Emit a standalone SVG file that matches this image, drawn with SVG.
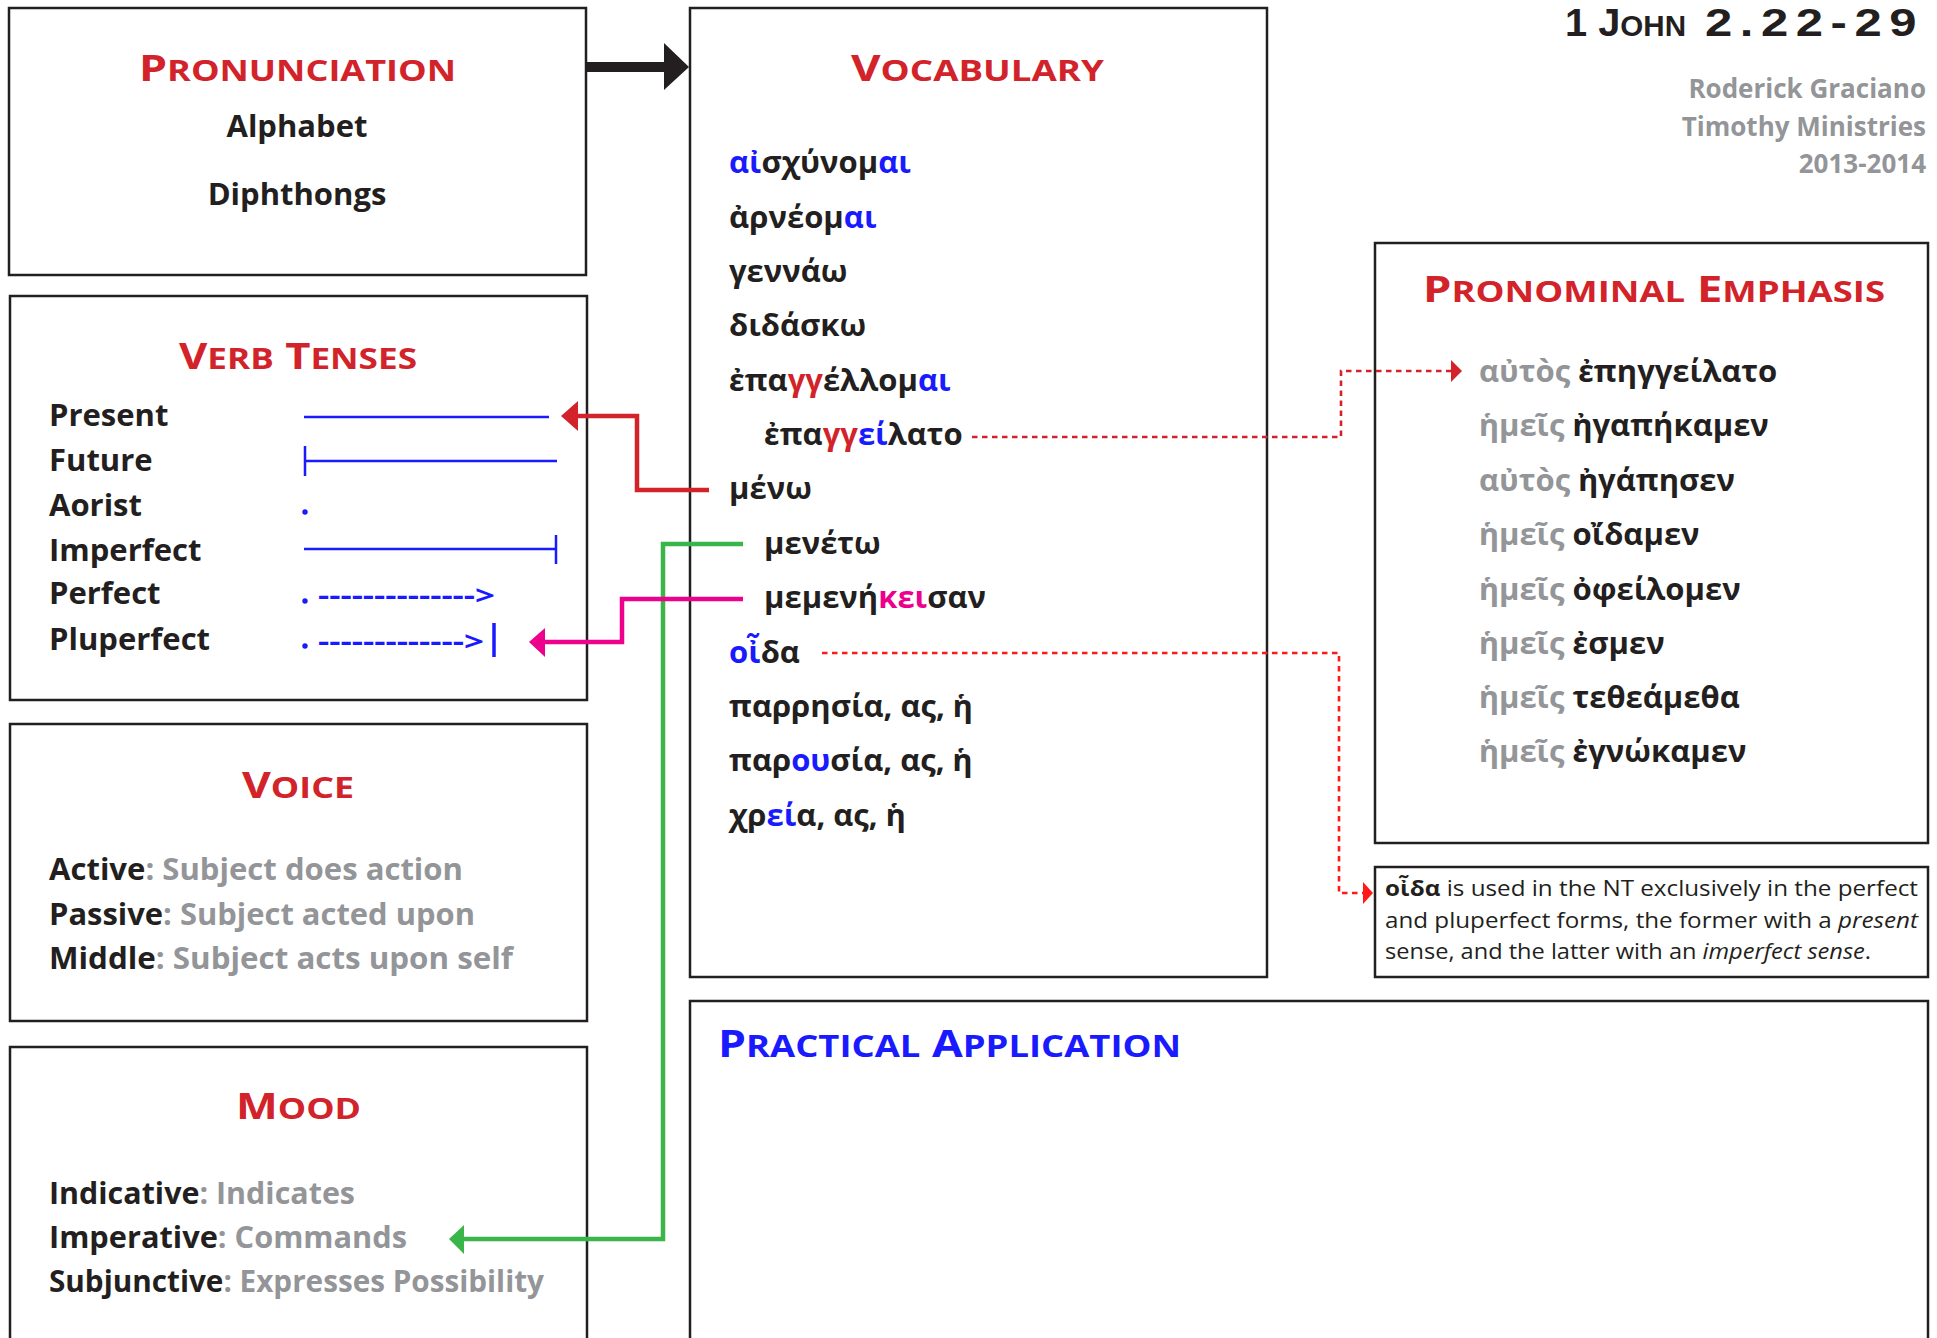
<svg xmlns="http://www.w3.org/2000/svg" width="1937" height="1338" viewBox="0 0 1937 1338">
<defs>
<style>
.box{fill:none;stroke:#231f20;stroke-width:2.5}
.h{font-family:"Open Sans","Noto Sans",sans-serif;font-weight:700;font-size:36px;fill:#d2232a}
.sc{font-size:29px}
.t{font-family:"Open Sans","Noto Sans",sans-serif;font-weight:700;font-size:31px;fill:#231f20}
.g{fill:#939598}
.b{fill:#1a1aff}
.r{fill:#d2232a}
.p{fill:#ec008c}
.gk{font-family:"Open Sans","Noto Sans",sans-serif;font-weight:700;font-size:31px;fill:#231f20}
.tl{fill:none;stroke:#1a1aff;stroke-width:2.5}
.dash{fill:none;stroke-width:2.6;stroke-dasharray:5.5 4.5}
.note{font-family:"Open Sans","Noto Sans",sans-serif;font-size:22px;fill:#231f20}
.meta{font-family:"Open Sans","Noto Sans",sans-serif;font-weight:700;font-size:26px;fill:#939598}
.ttl{font-family:"Liberation Sans",Arial,sans-serif;font-weight:700;font-size:39px;fill:#231f20}
</style>
</defs>
<rect width="1937" height="1338" fill="#ffffff"/>

<g id="title">
<text class="ttl" x="1565" y="36" textLength="121" lengthAdjust="spacingAndGlyphs">1 J<tspan style="font-size:29px">OHN</tspan></text>
<text class="ttl" x="1705" y="36" style="letter-spacing:6px" textLength="219" lengthAdjust="spacingAndGlyphs">2.22-29</text>
<text class="meta" x="1926" y="98" text-anchor="end">Roderick Graciano</text>
<text class="meta" x="1926" y="136" text-anchor="end">Timothy Ministries</text>
<text class="meta" x="1926" y="173" text-anchor="end">2013-2014</text>
</g>

<g id="pronunciation">
<rect class="box" x="9" y="8" width="577" height="267"/>
<text class="h" x="139" y="81" textLength="317" lengthAdjust="spacingAndGlyphs">P<tspan class="sc">RONUNCIATION</tspan></text>
<text class="t" x="297" y="137" text-anchor="middle">Alphabet</text>
<text class="t" x="297" y="205" text-anchor="middle">Diphthongs</text>
</g>

<g id="verb-tenses">
<rect class="box" x="10" y="296" width="577" height="404"/>
<text class="h" x="179" y="369" textLength="238" lengthAdjust="spacingAndGlyphs">V<tspan class="sc">ERB</tspan> T<tspan class="sc">ENSES</tspan></text>
<text class="t" x="49" y="426">Present</text>
<text class="t" x="49" y="471">Future</text>
<text class="t" x="49" y="516">Aorist</text>
<text class="t" x="49" y="561">Imperfect</text>
<text class="t" x="49" y="604">Perfect</text>
<text class="t" x="49" y="650">Pluperfect</text>
<line class="tl" x1="304" y1="417" x2="549" y2="417"/>
<line class="tl" x1="305" y1="461" x2="557" y2="461"/>
<line class="tl" x1="305" y1="446" x2="305" y2="476"/>
<circle cx="305" cy="512" r="2.7" fill="#1a1aff"/>
<line class="tl" x1="304" y1="549" x2="556" y2="549"/>
<line class="tl" x1="556" y1="535" x2="556" y2="564"/>
<circle cx="305" cy="601" r="2.7" fill="#1a1aff"/>
<text class="t b" x="318" y="605" style="font-size:27px" textLength="177" lengthAdjust="spacingAndGlyphs">--------------&gt;</text>
<circle cx="305" cy="646" r="2.7" fill="#1a1aff"/>
<text class="t b" x="318" y="651" style="font-size:27px" textLength="166" lengthAdjust="spacingAndGlyphs">-------------&gt;</text>
<line x1="494" y1="623" x2="494" y2="657" stroke="#1a1aff" stroke-width="3.5"/>
</g>

<g id="voice">
<rect class="box" x="10" y="724" width="577" height="297"/>
<text class="h" x="242" y="798" textLength="112" lengthAdjust="spacingAndGlyphs">V<tspan class="sc">OICE</tspan></text>
<text class="t" x="49" y="880" textLength="414" lengthAdjust="spacingAndGlyphs">Active<tspan class="g">: Subject does action</tspan></text>
<text class="t" x="49" y="925" textLength="426" lengthAdjust="spacingAndGlyphs">Passive<tspan class="g">: Subject acted upon</tspan></text>
<text class="t" x="49" y="969" textLength="464" lengthAdjust="spacingAndGlyphs">Middle<tspan class="g">: Subject acts upon self</tspan></text>
</g>

<g id="mood">
<rect class="box" x="10" y="1047" width="577" height="300"/>
<text class="h" x="236" y="1119" textLength="125" lengthAdjust="spacingAndGlyphs">M<tspan class="sc">OOD</tspan></text>
<text class="t" x="49" y="1204" textLength="306" lengthAdjust="spacingAndGlyphs">Indicative<tspan class="g">: Indicates</tspan></text>
<text class="t" x="49" y="1248" textLength="358" lengthAdjust="spacingAndGlyphs">Imperative<tspan class="g">: Commands</tspan></text>
<text class="t" x="49" y="1292" textLength="495" lengthAdjust="spacingAndGlyphs">Subjunctive<tspan class="g">: Expresses Possibility</tspan></text>
</g>

<g id="vocabulary">
<rect class="box" x="690" y="8" width="577" height="969"/>
<text class="h" x="851" y="81" textLength="253" lengthAdjust="spacingAndGlyphs">V<tspan class="sc">OCABULARY</tspan></text>
<text class="gk" x="729" y="173"><tspan class="b">αἰ</tspan>σχύνομ<tspan class="b">αι</tspan></text>
<text class="gk" x="729" y="228">ἀρνέομ<tspan class="b">αι</tspan></text>
<text class="gk" x="729" y="282">γεννάω</text>
<text class="gk" x="729" y="336">διδάσκω</text>
<text class="gk" x="729" y="391">ἐπα<tspan class="r">γγ</tspan>έλλομ<tspan class="b">αι</tspan></text>
<text class="gk" x="764" y="445">ἐπα<tspan class="r">γγ</tspan><tspan class="b">εί</tspan>λατο</text>
<text class="gk" x="729" y="499">μένω</text>
<text class="gk" x="764" y="554">μενέτω</text>
<text class="gk" x="764" y="608">μεμενή<tspan class="p">κει</tspan>σαν</text>
<text class="gk" x="729" y="663"><tspan class="b">οἶ</tspan>δα</text>
<text class="gk" x="729" y="717">παρρησία, ας, ἡ</text>
<text class="gk" x="729" y="771">παρ<tspan class="b">ου</tspan>σία, ας, ἡ</text>
<text class="gk" x="729" y="826">χρ<tspan class="b">εί</tspan>α, ας, ἡ</text>
</g>

<g id="pronominal-emphasis">
<rect class="box" x="1375" y="243" width="553" height="600"/>
<text class="h" x="1423" y="302" textLength="462" lengthAdjust="spacingAndGlyphs">P<tspan class="sc">RONOMINAL</tspan> E<tspan class="sc">MPHASIS</tspan></text>
<text class="gk" x="1479" y="382"><tspan class="g">αὐτὸς</tspan> ἐπηγγείλατο</text>
<text class="gk" x="1479" y="436"><tspan class="g">ἡμεῖς</tspan> ἠγαπήκαμεν</text>
<text class="gk" x="1479" y="491"><tspan class="g">αὐτὸς</tspan> ἠγάπησεν</text>
<text class="gk" x="1479" y="545"><tspan class="g">ἡμεῖς</tspan> οἴδαμεν</text>
<text class="gk" x="1479" y="600"><tspan class="g">ἡμεῖς</tspan> ὀφείλομεν</text>
<text class="gk" x="1479" y="654"><tspan class="g">ἡμεῖς</tspan> ἐσμεν</text>
<text class="gk" x="1479" y="708"><tspan class="g">ἡμεῖς</tspan> τεθεάμεθα</text>
<text class="gk" x="1479" y="762"><tspan class="g">ἡμεῖς</tspan> ἐγνώκαμεν</text>
</g>

<g id="oida-note">
<rect class="box" x="1375" y="867" width="553" height="110"/>
<text class="note" x="1385" y="896" textLength="533" lengthAdjust="spacingAndGlyphs"><tspan font-weight="700">οἶδα</tspan> is used in the NT exclusively in the perfect</text>
<text class="note" x="1385" y="928" textLength="533" lengthAdjust="spacingAndGlyphs">and pluperfect forms, the former with a <tspan font-style="italic">present</tspan></text>
<text class="note" x="1385" y="959" textLength="486" lengthAdjust="spacingAndGlyphs">sense, and the latter with an <tspan font-style="italic">imperfect sense</tspan>.</text>
</g>

<g id="practical-application">
<rect class="box" x="690" y="1001" width="1238" height="350"/>
<text class="h" x="718" y="1057" style="fill:#1a1aff;font-size:38px" textLength="463" lengthAdjust="spacingAndGlyphs">P<tspan style="font-size:31px">RACTICAL</tspan> A<tspan style="font-size:31px">PPLICATION</tspan></text>
</g>

<g id="connectors">
<line x1="586" y1="67" x2="665" y2="67" stroke="#231f20" stroke-width="10"/>
<polygon points="664,43 689,67 664,90" fill="#231f20"/>
<path d="M709,490 H637 V416 H576" fill="none" stroke="#d2232a" stroke-width="4.5"/>
<polygon points="561,416 578,401 578,431" fill="#d2232a"/>
<path d="M743,544 H663 V1239 H462" fill="none" stroke="#39b54a" stroke-width="4.5"/>
<polygon points="449,1239 464,1225 464,1254" fill="#39b54a"/>
<path d="M743,599 H622 V642 H543" fill="none" stroke="#ec008c" stroke-width="4.5"/>
<polygon points="529,642 545,628 545,657" fill="#ec008c"/>
<path class="dash" d="M972,437 H1341 V371 H1452" stroke="#d2232a"/>
<polygon points="1451,360 1462,371 1451,382" fill="#d2232a"/>
<path class="dash" d="M822,653 H1339 V893 H1364" stroke="#ff1a1a"/>
<polygon points="1363,882 1373,893 1363,904" fill="#ff1a1a"/>
</g>
</svg>
